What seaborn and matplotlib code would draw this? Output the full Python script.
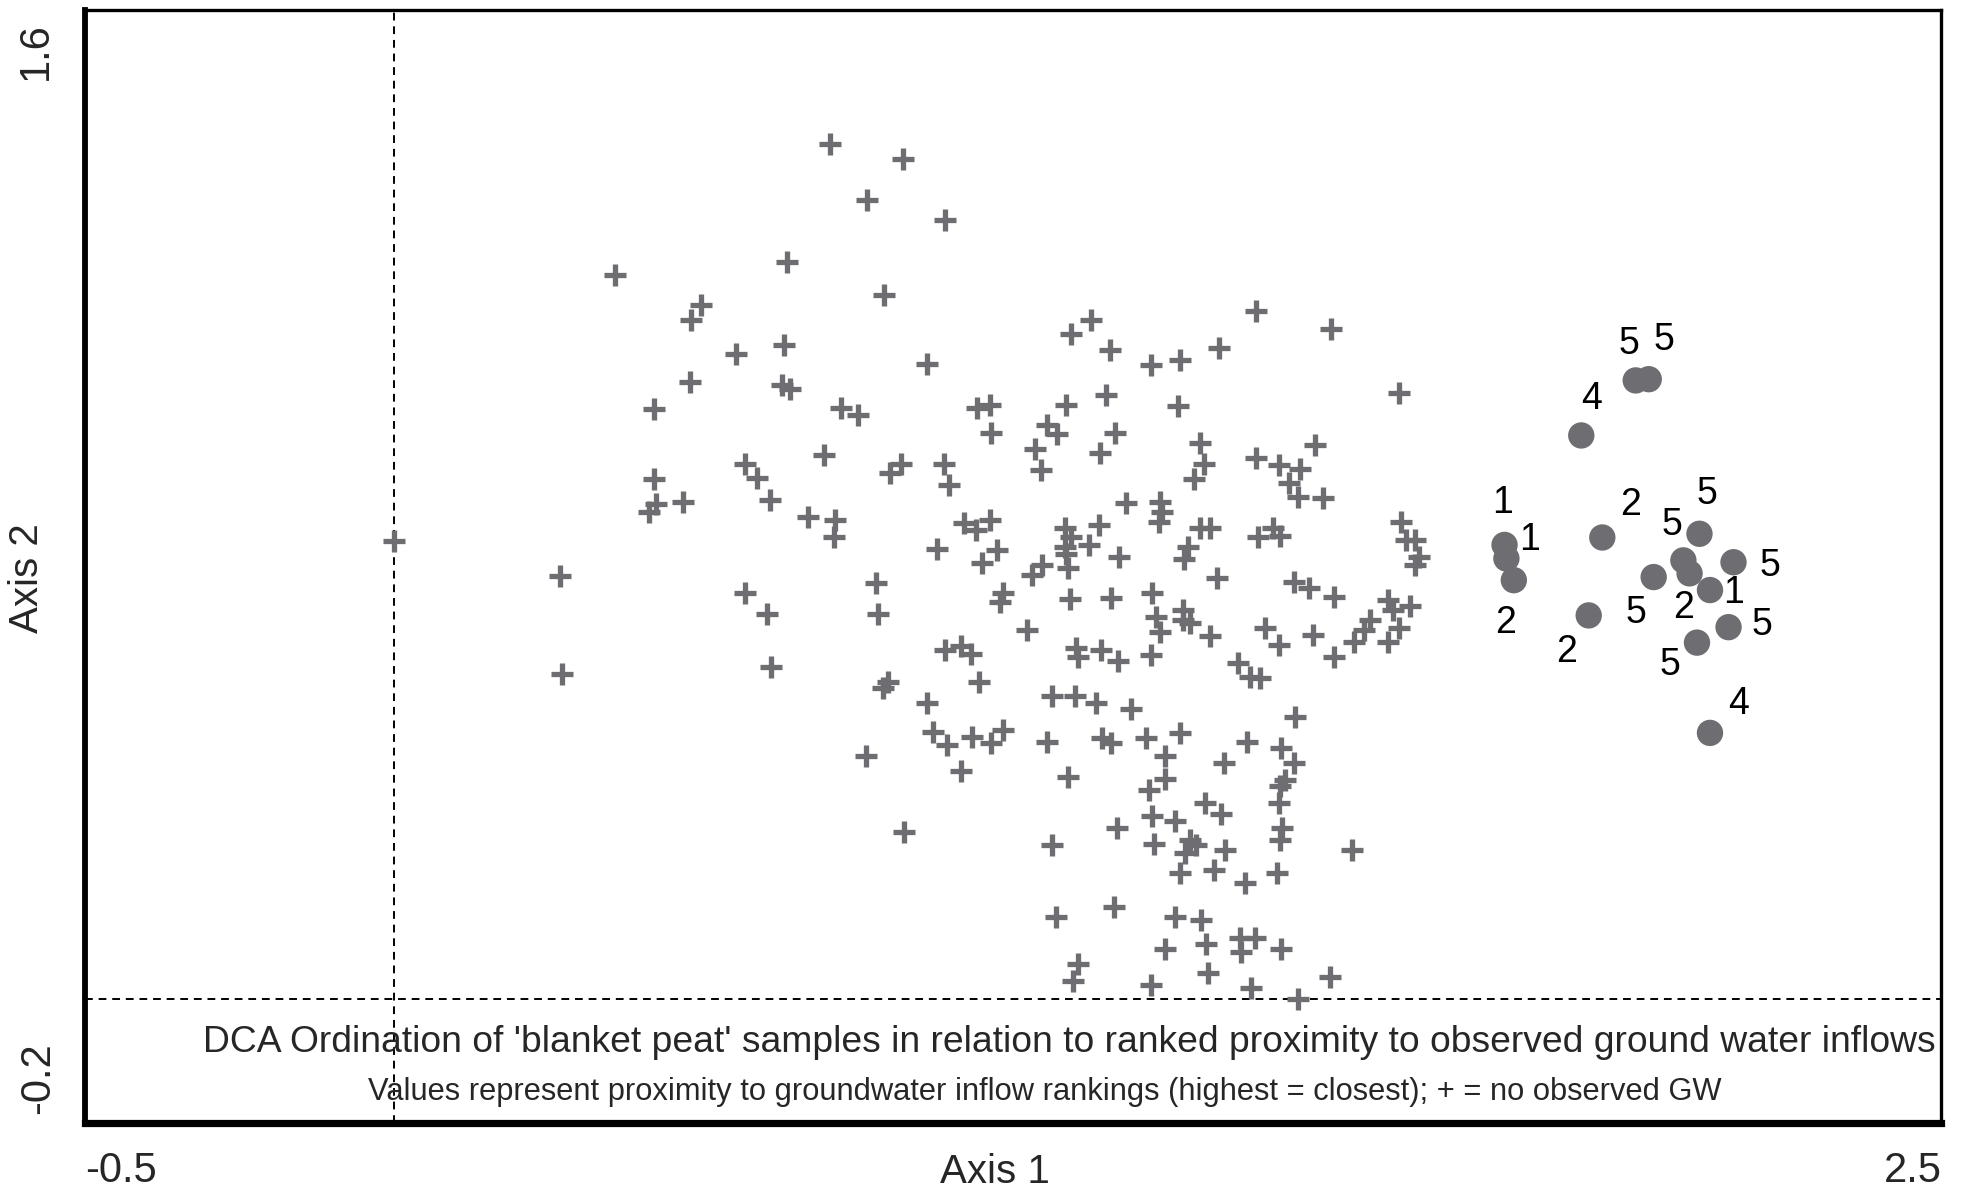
import matplotlib
matplotlib.use('Agg')
import matplotlib.pyplot as plt
import seaborn as sns

# samples with no observed ground water (+)
plus_x = [0.357, 0.495, 0.479, 0.552, 0.477, 0.419, 0.704, 0.822, 0.764, 0.890,
          0.635, 0.791, 1.094, 0.630, 0.860, 0.627, 0.639, 0.722, 0.749, 0.942,
          0.962, 1.086, 1.126, 1.156, 1.223, 1.270, 1.393, 1.514, 1.332, 1.150,
          1.266, 1.624, 0.000, 0.419, 0.423, 0.412, 0.467, 0.267, 0.271, 0.964,
          1.055, 1.070, 1.035, 1.045, 0.566, 0.586, 0.607, 0.695, 0.801, 0.819,
          0.888, 0.896, 0.669, 0.712, 0.710, 0.566, 0.602, 0.609, 0.778, 0.782,
          0.877, 0.920, 0.940, 0.962, 0.973, 0.950, 1.084, 1.094, 1.084, 1.086,
          1.088, 1.031, 1.047, 0.983, 0.979, 1.092, 1.023, 1.102, 1.104, 0.890,
          0.916, 0.932, 0.944, 0.798, 0.790, 0.861, 1.063, 1.100, 1.164, 1.141,
          1.302, 1.308, 1.292, 1.488, 1.393, 1.429, 1.464, 1.446, 1.460, 1.500,
          1.183, 1.237, 1.241, 1.236, 1.138, 1.122, 1.171, 1.302, 1.318, 1.282,
          1.276, 1.395, 1.419, 1.431, 1.626, 1.634, 1.650, 1.656, 1.650, 1.330,
          1.454, 1.478, 1.518, 1.158, 1.225, 1.605, 1.613, 1.642, 1.577, 1.567,
          1.551, 1.624, 1.605, 1.230, 1.237, 1.274, 1.286, 1.274, 1.318, 1.407,
          1.430, 1.484, 1.142, 1.169, 1.223, 1.363, 1.383, 1.399, 1.518, 0.870,
          0.893, 0.933, 0.964, 0.983, 0.762, 0.916, 1.054, 1.088, 0.823, 1.062,
          1.069, 1.104, 1.096, 1.133, 1.190, 1.456, 1.144, 1.158, 1.214, 1.270,
          1.377, 1.433, 1.454, 1.246, 1.245, 1.219, 1.340, 1.440, 1.431, 1.429,
          1.310, 1.336, 1.225, 1.262, 1.167, 1.435, 1.431, 1.228, 1.286, 1.295,
          1.277, 1.342, 1.270, 1.325, 1.374, 1.427, 1.547, 1.163, 1.261, 1.303,
          1.366, 1.390, 1.368, 1.312, 1.433, 1.245, 1.314, 1.223, 1.385, 1.512,
          1.461]
plus_y = [1.172, 1.123, 1.098, 1.044, 0.999, 0.955, 1.383, 1.359, 1.293, 1.260,
          1.193, 1.139, 1.076, 1.059, 1.028, 0.993, 0.987, 0.957, 0.945, 0.957,
          0.961, 0.961, 1.098, 1.050, 1.026, 1.034, 1.113, 1.084, 1.054, 0.977,
          0.959, 0.981, 0.741, 0.842, 0.801, 0.789, 0.805, 0.684, 0.526, 0.916,
          0.929, 0.914, 0.890, 0.856, 0.866, 0.844, 0.807, 0.880, 0.852, 0.866,
          0.866, 0.832, 0.780, 0.775, 0.748, 0.658, 0.623, 0.538, 0.674, 0.624,
          0.728, 0.771, 0.759, 0.775, 0.726, 0.705, 0.762, 0.747, 0.731, 0.721,
          0.698, 0.686, 0.702, 0.658, 0.642, 0.648, 0.597, 0.569, 0.553, 0.565,
          0.571, 0.559, 0.514, 0.513, 0.504, 0.480, 0.490, 0.490, 0.916, 0.884,
          0.900, 0.866, 0.842, 0.896, 0.876, 0.864, 0.858, 0.835, 0.813, 0.811,
          0.802, 0.804, 0.788, 0.772, 0.767, 0.735, 0.715, 0.762, 0.762, 0.731,
          0.713, 0.747, 0.763, 0.749, 0.772, 0.743, 0.743, 0.715, 0.702, 0.682,
          0.675, 0.665, 0.650, 0.649, 0.658, 0.646, 0.629, 0.637, 0.613, 0.597,
          0.578, 0.601, 0.578, 0.618, 0.594, 0.629, 0.609, 0.613, 0.588, 0.601,
          0.573, 0.589, 0.565, 0.547, 0.557, 0.544, 0.522, 0.520, 0.553, 0.433,
          0.412, 0.425, 0.415, 0.435, 0.393, 0.369, 0.417, 0.360, 0.270, 0.250,
          0.134, 0.057, 0.029, 0.480, 0.470, 0.456, 0.423, 0.415, 0.423, 0.431,
          0.417, 0.407, 0.383, 0.393, 0.356, 0.339, 0.383, 0.355, 0.345, 0.318,
          0.318, 0.300, 0.297, 0.288, 0.278, 0.278, 0.258, 0.252, 0.258, 0.250,
          0.237, 0.241, 0.205, 0.209, 0.189, 0.205, 0.242, 0.150, 0.134, 0.128,
          0.100, 0.100, 0.077, 0.089, 0.081, 0.081, 0.042, 0.023, 0.019, 0.036,
          0.000]

# samples with observed ground water, labelled by proximity rank
gw_x = [2.006, 2.027, 1.918, 1.794, 1.797, 1.809, 1.952, 1.930, 2.035,
        2.109, 2.083, 2.093, 2.164, 2.126, 2.156, 2.105, 2.126]
gw_y = [1.001, 1.003, 0.912, 0.735, 0.713, 0.678, 0.747, 0.621, 0.683,
        0.753, 0.710, 0.689, 0.707, 0.662, 0.602, 0.577, 0.431]
gw_rank = ['5', '5', '4', '1', '1', '2', '2', '2', '5',
           '5', '5', '2', '5', '1', '5', '5', '4']
# label offsets (points) so the numbers sit as in the original
label_off = [(-2.4, 13), (5.4, 14), (3.8, 13), (-0.8, 15), (8.4, 6.6), (-3, -15.5),
             (10, 11.6), (-8, -13), (-6.2, -13), (2.6, 14.4), (-4.2, 12.6), (-2.2, -12.6),
             (13, -1.2), (8.6, -1.2), (12, 0.6), (-9.6, -8), (10.4, 10.5)]

x_ticks = [-0.5, 0, 0.5, 1, 1.5, 2, 2.5]
y_ticks = [-0.2, 0, 0.2, 0.4, 0.6, 0.8, 1.0, 1.2, 1.4, 1.6]

grey = '#6d6d72'

sns.set_style('white')
plt.rcParams['font.family'] = ['Liberation Sans', 'DejaVu Sans']

fig = plt.figure(figsize=(9.82, 5.96), dpi=200)
ax = fig.add_axes([0.0433, 0.0578, 0.9452, 0.9338])

ax.axvline(0, color='black', lw=0.7, ls=(0, (4, 3)), zorder=1)
ax.axhline(0, color='black', lw=0.7, ls=(0, (4, 3)), zorder=1)

sns.scatterplot(x=plus_x, y=plus_y, marker='+', s=62, color=grey,
                linewidth=1.9, ax=ax, zorder=3)
sns.scatterplot(x=gw_x, y=gw_y, marker='o', s=90, color=grey,
                edgecolor='none', ax=ax, zorder=3)
for x, y, r, off in zip(gw_x, gw_y, gw_rank, label_off):
    ax.annotate(r, (x, y), xytext=off, textcoords='offset points',
                ha='center', va='center', fontsize=13.5, color='black')

ax.set_xlim(x_ticks[0], x_ticks[-1])
ax.set_ylim(y_ticks[0], y_ticks[-1])
ax.set_xticks(x_ticks)
ax.set_yticks(y_ticks)
ax.set_xticklabels([])
ax.set_yticklabels([])
ax.tick_params(axis='both', direction='inout', length=8.3, width=1.2,
               color='black')

# end labels only, as in the original
lab_kw = dict(fontsize=15, textcoords='offset points')
ax.annotate(f'{x_ticks[0]}', (0, 0), xycoords='axes fraction', xytext=(0, -10),
            ha='left', va='top', **lab_kw)
ax.annotate(f'{x_ticks[-1]}', (1, 0), xycoords='axes fraction', xytext=(0, -10),
            ha='right', va='top', **lab_kw)
ax.annotate(f'{y_ticks[0]}', (0, 0), xycoords='axes fraction', xytext=(-9.7, 3.2),
            ha='right', va='bottom', rotation=90, **lab_kw)
ax.annotate(f'{y_ticks[-1]}', (0, 1), xycoords='axes fraction', xytext=(-10.4, -4.5),
            ha='right', va='top', rotation=90, **lab_kw)

ax.set_xlabel('Axis 1', fontsize=14.5)
ax.set_ylabel('Axis 2', fontsize=14.5)
ax.xaxis.set_label_coords(0.49, -0.027)
ax.xaxis.label.set_va('top')
ax.yaxis.set_label_coords(-0.021, 0.49)

for side, w in [('left', 2.1), ('bottom', 2.6), ('top', 1.2), ('right', 1.2)]:
    ax.spines[side].set_linewidth(w)
    ax.spines[side].set_color('black')

ax.text(0.997, 0.072, "DCA Ordination of 'blanket peat' samples in relation to ranked "
        "proximity to observed ground water inflows",
        transform=ax.transAxes, ha='right', va='center', fontsize=13.4)
ax.text(0.517, 0.028, 'Values represent proximity to groundwater inflow rankings '
        '(highest = closest); + = no observed GW',
        transform=ax.transAxes, ha='center', va='center', fontsize=11.1)

fig.savefig('out.png', dpi=200)
